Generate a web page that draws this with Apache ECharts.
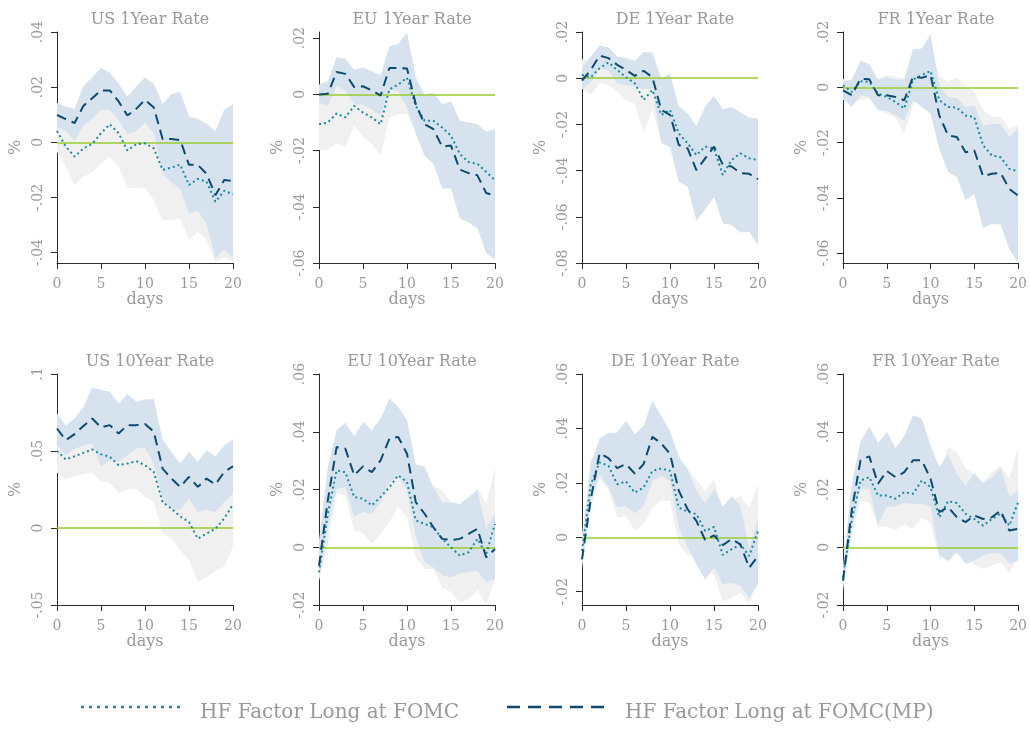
<!DOCTYPE html>
<html>
<head>
<meta charset="utf-8">
<script src="https://cdn.jsdelivr.net/npm/echarts@6/dist/echarts.min.js"></script>
<style>
html,body{margin:0;padding:0;background:#fff}
#chart{width:1030px;height:729px}
</style>
</head>
<body>
<div id="chart"></div>
<script>
// Horizon in days after the announcement
const days = [0,1,2,3,4,5,6,7,8,9,10,11,12,13,14,15,16,17,18,19,20];

const titles = ['US 1Year Rate','EU 1Year Rate','DE 1Year Rate','FR 1Year Rate',
                'US 10Year Rate','EU 10Year Rate','DE 10Year Rate','FR 10Year Rate'];
const seriesNames = ['HF Factor Long at FOMC','HF Factor Long at FOMC(MP)'];

// Y tick values and axis ranges per panel
const us1Ticks = [-0.04,-0.02,0,0.02,0.04];
const eu1Ticks = [-0.06,-0.04,-0.02,0,0.02];
const de1Ticks = [-0.08,-0.06,-0.04,-0.02,0,0.02];
const fr1Ticks = [-0.06,-0.04,-0.02,0,0.02];
const us10Ticks = [-0.05,0,0.05,0.1];
const eu10Ticks = [-0.02,0,0.02,0.04,0.06];
const de10Ticks = [-0.02,0,0.02,0.04,0.06];
const fr10Ticks = [-0.02,0,0.02,0.04,0.06];
const yMins = [-0.0438,-0.06,-0.08,-0.0636,-0.05,-0.02,-0.0249,-0.02];
const yMaxs = [0.04,0.0222,0.02,0.02,0.1,0.06,0.06,0.06];

// US 1Year
const us1Dot  = [.0041,-.0016,-.0052,-.0022,-.0006,.0033,.0065,.0033,-.003,-.0007,-.0004,-.0022,-.01,-.0092,-.0081,-.0155,-.0133,-.0143,-.0216,-.0176,-.0189];
const us1Dash = [.0099,.0084,.007,.0132,.016,.0188,.0188,.0148,.0097,.0121,.0154,.0126,.0012,.0012,.0008,-.0082,-.0082,-.0115,-.0192,-.0137,-.014];
const us1Ghi  = [.0116,.0056,.0051,.0081,.0098,.0142,.0182,.0154,.0107,.0151,.0157,.0166,.0082,.0098,.0114,.0045,.0059,.0069,.0002,.0064,.0056];
const us1Glo  = [-.0034,-.0088,-.0155,-.0125,-.011,-.0076,-.0052,-.0088,-.0167,-.0165,-.0165,-.021,-.0282,-.0282,-.0276,-.0355,-.0325,-.0355,-.0434,-.0416,-.0434];
const us1Bhi  = [.0142,.013,.0121,.0205,.0236,.0269,.0253,.0212,.0166,.0202,.0235,.0212,.0139,.0175,.0183,.0093,.0085,.0067,.0041,.0118,.0138];
const us1Blo  = [.0055,.0039,.0006,.0059,.0087,.0118,.0119,.0081,.003,.0039,.0072,.0033,-.0113,-.0143,-.0171,-.0258,-.0248,-.0297,-.0422,-.0389,-.0418];

// EU 1Year
const eu1Dot  = [-.0106,-.01,-.0068,-.0082,-.0041,-.0065,-.0082,-.0106,.0018,.0035,.0059,-.0041,-.0094,-.0094,-.0118,-.0147,-.0212,-.0241,-.0247,-.0276,-.0306];
const eu1Dash = [0,.0002,.008,.0073,.0026,.0029,.0014,-.0004,.0094,.0094,.0092,-.0035,-.0106,-.0124,-.0186,-.0182,-.0268,-.028,-.0288,-.0351,-.036];
const eu1Ghi  = [-.0014,-.0002,.0038,.0022,.003,.0021,.0012,.0006,.0121,.0141,.0189,.0039,-.0014,-.0014,-.0038,-.0067,-.0132,-.0161,-.0167,-.0196,-.0226];
const eu1Glo  = [-.0198,-.0198,-.0174,-.0186,-.0112,-.0151,-.0176,-.0218,-.0085,-.0071,-.0071,-.0131,-.0184,-.0184,-.0208,-.0237,-.0302,-.0331,-.0337,-.0366,-.0396];
const eu1Bhi  = [.0035,.0047,.0132,.0127,.0088,.0096,.0082,.0068,.0171,.0179,.0221,.0059,0,.0006,-.0035,-.0024,-.0094,-.01,-.0106,-.0132,-.0124];
const eu1Blo  = [-.0029,-.0041,.0029,.0014,-.0035,-.0038,-.0053,-.0076,.0014,.0012,-.0047,-.0141,-.0218,-.0247,-.0335,-.0335,-.0441,-.0456,-.0476,-.0565,-.0588];

// DE 1Year
const de1Dot  = [.0014,.0004,.0043,.0068,.0036,.0004,-.0022,-.0094,-.0051,-.0159,-.0137,-.0239,-.0282,-.0333,-.0296,-.0304,-.0419,-.0354,-.0325,-.0347,-.0354];
const de1Dash = [-.001,.0036,.0098,.0087,.0058,.0036,.001,.0032,.0004,-.0137,-.0159,-.0289,-.0304,-.0398,-.0347,-.0296,-.0374,-.0382,-.0411,-.0414,-.0437];
const de1Ghi  = [.0082,.0078,.0105,.011,.008,.006,.004,.002,.003,-.0039,-.0017,-.0119,-.0162,-.0213,-.0176,-.0184,-.0299,-.0234,-.0205,-.0227,-.0234];
const de1Glo  = [-.0043,-.0072,-.0022,-.0029,-.0058,-.0094,-.0111,-.0236,-.0137,-.0279,-.0257,-.0359,-.0402,-.0453,-.0416,-.0424,-.0539,-.0474,-.0445,-.0467,-.0474];
const de1Bhi  = [.0043,.0094,.0142,.0134,.0094,.0087,.0075,.0113,.0111,0,.0019,-.0123,-.0152,-.0207,-.0123,-.0077,-.0134,-.0126,-.0149,-.017,-.0174];
const de1Blo  = [-.0048,-.0019,.0043,.0033,-.0022,-.0029,-.0036,-.0048,-.0043,-.028,-.0298,-.0449,-.047,-.0617,-.0568,-.0513,-.0629,-.0636,-.0668,-.0665,-.0723];

// FR 1Year
const fr1Dot  = [.0007,-.0017,.0022,.0019,-.0023,-.0035,-.0053,-.0077,.0028,.0044,.0059,-.0047,-.0071,-.0074,-.0102,-.0108,-.021,-.0247,-.0253,-.0295,-.0304];
const fr1Dash = [-.0011,-.0029,.0031,.0029,-.0029,-.0029,-.0035,-.0047,.0038,.0034,.0044,-.0102,-.0174,-.018,-.0235,-.0229,-.0322,-.0313,-.031,-.0368,-.0392];
const fr1Ghi  = [.003,.002,.0075,.0074,.003,.0044,.0038,.0031,.0118,.0134,.0149,.0038,.0022,.0035,.0004,-.0017,-.0083,-.0107,-.0107,-.015,-.0138];
const fr1Glo  = [-.0045,-.006,-.0045,-.004,-.008,-.0095,-.011,-.0168,-.0062,-.0046,-.0031,-.0132,-.0164,-.0183,-.0208,-.0199,-.0337,-.0387,-.0399,-.044,-.047];
const fr1Bhi  = [.0019,.0028,.0096,.0083,.0028,.0035,.0028,.0029,.0138,.014,.0192,.0007,-.0035,-.0039,-.0071,-.0065,-.0138,-.0134,-.0132,-.018,-.0148];
const fr1Blo  = [-.0041,-.0071,-.0029,-.0035,-.0083,-.0086,-.0102,-.012,-.0047,-.0071,-.0096,-.0223,-.0307,-.0325,-.0408,-.0386,-.0509,-.0495,-.0497,-.0586,-.0634];

// US 10Year
const us10Dot  = [.0501,.0445,.0466,.0488,.051,.0479,.0462,.0408,.0419,.0434,.0408,.0364,.0169,.0126,.0076,.0039,-.0069,-.0037,-.0004,.0061,.0154];
const us10Dash = [.0646,.057,.061,.0662,.0711,.0653,.0668,.0614,.0668,.0668,.0675,.0625,.0386,.0321,.0267,.0332,.0267,.0321,.0282,.0364,.0401];
const us10Ghi  = [.0644,.0575,.0596,.0627,.0662,.0652,.0631,.0588,.0589,.0612,.0614,.0559,.0371,.0321,.0297,.0288,.0213,.0245,.0272,.0371,.0432];
const us10Glo  = [.0358,.0315,.0336,.0349,.0358,.0306,.0293,.0228,.0249,.0256,.0202,.0169,-.0033,-.0069,-.0145,-.021,-.0351,-.0319,-.028,-.0249,-.0124];
const us10Bhi  = [.0744,.0664,.0711,.0787,.0913,.0896,.0885,.0809,.087,.082,.0835,.0837,.0575,.0495,.0419,.0495,.043,.0505,.0462,.0538,.0577];
const us10Blo  = [.0538,.0473,.0512,.0538,.0549,.0397,.044,.043,.0473,.0516,.0523,.0419,.0191,.0126,.0115,.0191,.0104,.0119,.0104,.0169,.0223];

// EU 10Year
const eu10Dot  = [-.0087,.0116,.0266,.026,.0174,.0168,.0145,.0174,.0208,.0249,.0226,.0093,.0081,.0069,.0029,0,-.0029,-.0017,.0029,-.0023,.0081];
const eu10Dash = [-.0064,.0162,.0347,.0341,.0249,.028,.026,.0301,.0376,.0382,.0324,.0156,.0116,.0069,.0029,.0025,.0029,.0046,.0064,-.0035,-.0006];
const eu10Ghi  = [-.0058,.0218,.0344,.0341,.029,.0287,.0278,.0302,.0329,.0359,.0348,.0221,.0237,.0213,.0197,.0156,.0133,.0145,.0206,.0151,.0275];
const eu10Glo  = [-.0116,.0014,.0188,.0179,.0058,.0049,.0012,.0046,.0087,.0139,.0104,-.0035,-.0075,-.0075,-.0139,-.0156,-.0191,-.0179,-.0148,-.0197,-.0113];
const eu10Bhi  = [.0023,.0278,.0405,.0431,.0384,.0434,.0405,.0446,.0515,.0486,.044,.0287,.028,.0208,.0156,.0156,.015,.0174,.0197,.0064,.0116];
const eu10Blo  = [-.0104,.0069,.0203,.0208,.0106,.0122,.0116,.0156,.0226,.0243,.0197,.0035,-.0052,-.0069,-.0098,-.0104,-.009,-.0087,-.0081,-.0122,-.011];

// DE 10Year
const de10Dot  = [-.005,.0195,.0275,.0263,.0195,.0205,.0164,.0183,.0244,.0253,.0244,.0109,.0094,.0085,.0023,.0038,-.0065,-.0044,-.0026,-.0069,.0023];
const de10Dash = [-.0081,.014,.0309,.0291,.0254,.0269,.0234,.0269,.0369,.0345,.0306,.0171,.0103,.006,-.0011,.0007,-.0029,-.0007,-.0026,-.0112,-.0069];
const de10Ghi  = [.0012,.0281,.0337,.0349,.0318,.0331,.0305,.0316,.0379,.0372,.0354,.0244,.0251,.021,.017,.0212,.0104,.0134,.0152,.0109,.0194];
const de10Glo  = [-.0112,.0109,.0213,.0177,.0072,.0079,.0023,.005,.0109,.0134,.0134,-.0026,-.0063,-.0077,-.0124,-.0136,-.0234,-.0222,-.0204,-.0247,-.0148];
const de10Bhi  = [-.0038,.0269,.0364,.0383,.0385,.0428,.0379,.041,.0502,.0447,.0391,.0296,.025,.0171,.0124,.0177,.0112,.0151,.0115,-.0038,.0066];
const de10Blo  = [-.0099,.014,.0232,.0185,.0109,.0115,.0088,.0115,.0207,.0226,.0207,.0036,-.0038,-.0099,-.0155,-.0112,-.0173,-.0167,-.0179,-.0222,-.0173];

// FR 10Year
const fr10Dot  = [-.0104,.0093,.0231,.0243,.0179,.0179,.0168,.0191,.0185,.0231,.0208,.0104,.016,.0153,.0116,.0098,.0075,.0098,.0116,.0075,.0156];
const fr10Dash = [-.0116,.0127,.0301,.0315,.022,.0264,.0243,.026,.0301,.0301,.0237,.0122,.0139,.0104,.0087,.011,.0098,.0104,.0127,.0058,.0064];
const fr10Ghi  = [-.0075,.0145,.0303,.033,.0289,.0286,.0276,.0303,.0306,.0358,.0333,.0249,.0349,.0329,.0273,.0254,.0225,.026,.0284,.0237,.0347];
const fr10Glo  = [-.0133,.0041,.0159,.0156,.0069,.0072,.006,.0079,.0064,.0104,.0083,-.0041,-.0029,-.0023,-.0041,-.0058,-.0075,-.0064,-.0052,-.0087,-.0035];
const fr10Bhi  = [-.0069,.022,.0365,.0419,.0361,.0399,.0344,.0384,.0457,.0446,.0353,.0278,.0322,.0255,.0214,.0257,.0222,.0241,.0275,.0176,.0197];
const fr10Blo  = [-.015,.0064,.0203,.0203,.0079,.0139,.0141,.0153,.015,.015,.0139,-.0025,-.0049,-.0017,-.0058,-.0046,-.0029,-.0021,-.0021,-.0056,-.0046];

const panels = [
  {ticks: us1Ticks,  dot: us1Dot,  dash: us1Dash,  ghi: us1Ghi,  glo: us1Glo,  bhi: us1Bhi,  blo: us1Blo},
  {ticks: eu1Ticks,  dot: eu1Dot,  dash: eu1Dash,  ghi: eu1Ghi,  glo: eu1Glo,  bhi: eu1Bhi,  blo: eu1Blo},
  {ticks: de1Ticks,  dot: de1Dot,  dash: de1Dash,  ghi: de1Ghi,  glo: de1Glo,  bhi: de1Bhi,  blo: de1Blo},
  {ticks: fr1Ticks,  dot: fr1Dot,  dash: fr1Dash,  ghi: fr1Ghi,  glo: fr1Glo,  bhi: fr1Bhi,  blo: fr1Blo},
  {ticks: us10Ticks, dot: us10Dot, dash: us10Dash, ghi: us10Ghi, glo: us10Glo, bhi: us10Bhi, blo: us10Blo},
  {ticks: eu10Ticks, dot: eu10Dot, dash: eu10Dash, ghi: eu10Ghi, glo: eu10Glo, bhi: eu10Bhi, blo: eu10Blo},
  {ticks: de10Ticks, dot: de10Dot, dash: de10Dash, ghi: de10Ghi, glo: de10Glo, bhi: de10Bhi, blo: de10Blo},
  {ticks: fr10Ticks, dot: fr10Dot, dash: fr10Dash, ghi: fr10Ghi, glo: fr10Glo, bhi: fr10Bhi, blo: fr10Blo}
];

const FONT = 'DejaVu Serif';
const TEXT_GRAY = '#999999';
const AXIS_COLOR = '#2b2b2b';
const DOT_COLOR = '#1b8a9c';
const DASH_COLOR = '#0d4a6e';
const BLUE_BAND = '#d6e3ee';
const GRAY_BAND = '#f0f0f0';
const ZERO_COLOR = '#9acd32';

// grid placement (px)
const colLeft = [57, 319, 582, 843];
const rowTop = [32, 374];
const plotW = 176;
const plotH = [231, 231];

function fmtTick(v) {
  if (v === 0) return '0';
  const s = String(Math.abs(v)).replace(/^0/, '');
  return (v < 0 ? '-' : '') + s;
}

function bandSeries(idx, lo, hi, color, z) {
  return {
    type: 'custom',
    xAxisIndex: idx, yAxisIndex: idx,
    silent: true, z: z,
    data: [[0, 0]],
    renderItem: function (params, api) {
      const pts = [];
      for (let i = 0; i < days.length; i++) pts.push(api.coord([days[i], hi[i]]));
      for (let i = days.length - 1; i >= 0; i--) pts.push(api.coord([days[i], lo[i]]));
      return { type: 'polygon', shape: { points: pts }, style: { fill: color, stroke: null } };
    }
  };
}

const grids = [], xAxes = [], yAxes = [], series = [], titleList = [];

panels.forEach(function (p, i) {
  const r = Math.floor(i / 4), c = i % 4;
  grids.push({ left: colLeft[c], top: rowTop[r], width: plotW, height: plotH[r], containLabel: false });
  titleList.push({
    text: titles[i],
    left: colLeft[c] + plotW / 2, top: rowTop[r] - 25, textAlign: 'center',
    textStyle: { fontFamily: FONT, fontSize: 16, fontWeight: 'normal', color: TEXT_GRAY }
  });
  xAxes.push({
    gridIndex: i, type: 'value', min: 0, max: 20, interval: 5,
    name: 'days', nameLocation: 'middle', nameGap: 27,
    nameTextStyle: { fontFamily: FONT, fontSize: 16, color: TEXT_GRAY },
    axisLine: { onZero: false, lineStyle: { color: AXIS_COLOR, width: 1 } },
    axisTick: { inside: false, length: 6, lineStyle: { color: AXIS_COLOR } },
    axisLabel: { fontFamily: FONT, fontSize: 14, color: TEXT_GRAY, margin: 14 },
    splitLine: { show: false }
  });
  yAxes.push({
    gridIndex: i, type: 'value', min: yMins[i], max: yMaxs[i],
    name: '%', nameLocation: 'middle', nameGap: 33, nameRotate: 90,
    nameTextStyle: { fontFamily: FONT, fontSize: 16, color: TEXT_GRAY },
    axisLine: { show: true, onZero: false, lineStyle: { color: AXIS_COLOR, width: 1 } },
    axisTick: { show: true, length: 6, lineStyle: { color: AXIS_COLOR }, customValues: p.ticks },
    axisLabel: { fontFamily: FONT, fontSize: 14, color: TEXT_GRAY, rotate: 90, margin: 12,
                 customValues: p.ticks, formatter: fmtTick },
    splitLine: { show: false }
  });
  series.push(bandSeries(i, p.glo, p.ghi, GRAY_BAND, 1));
  series.push(bandSeries(i, p.blo, p.bhi, BLUE_BAND, 2));
  series.push({
    type: 'line', name: seriesNames[0], xAxisIndex: i, yAxisIndex: i, z: 4,
    data: days.map(function (d, k) { return [d, p.dot[k]]; }),
    symbol: 'none', silent: true,
    lineStyle: { color: DOT_COLOR, width: 2, type: [2, 3] },
    markLine: {
      silent: true, symbol: 'none', z: 3, label: { show: false },
      lineStyle: { color: ZERO_COLOR, width: 1.5, type: 'solid' },
      data: [{ yAxis: 0 }]
    }
  });
  series.push({
    type: 'line', name: seriesNames[1], xAxisIndex: i, yAxisIndex: i, z: 5,
    data: days.map(function (d, k) { return [d, p.dash[k]]; }),
    symbol: 'none', silent: true,
    lineStyle: { color: DASH_COLOR, width: 2, type: [10, 6] }
  });
});

// Key below the panels: line samples with their series names
const keyFont = '20px "' + FONT + '"';
const graphic = [
  { type: 'line', shape: { x1: 81, y1: 707, x2: 180, y2: 707 }, silent: true,
    style: { stroke: DOT_COLOR, lineWidth: 2.5, lineDash: [3, 5] } },
  { type: 'text', x: 200, y: 713, silent: true,
    style: { text: seriesNames[0], font: keyFont, fill: TEXT_GRAY, verticalAlign: 'middle' } },
  { type: 'line', shape: { x1: 507, y1: 707, x2: 608, y2: 707 }, silent: true,
    style: { stroke: DASH_COLOR, lineWidth: 2.5, lineDash: [13, 8] } },
  { type: 'text', x: 625, y: 713, silent: true,
    style: { text: seriesNames[1], font: keyFont, fill: TEXT_GRAY, verticalAlign: 'middle' } }
];

const option = {
  animation: false,
  backgroundColor: '#ffffff',
  title: titleList,
  grid: grids,
  xAxis: xAxes,
  yAxis: yAxes,
  graphic: graphic,
  series: series
};

const chart = echarts.init(document.getElementById('chart'), null, { renderer: 'canvas' });
chart.setOption(option);
</script>
</body>
</html>
